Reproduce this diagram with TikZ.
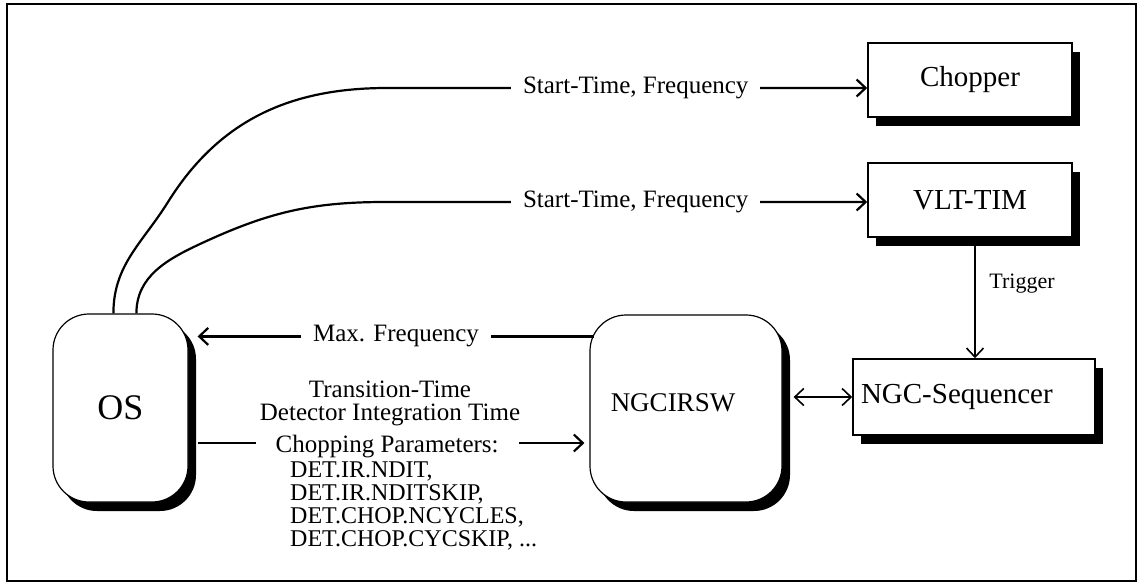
\documentclass[tikz,border=0pt]{standalone}
\usepackage{fontspec}
\setmainfont{Liberation Serif}
\usetikzlibrary{arrows.meta,shadows,calc}
\begin{document}
\begin{tikzpicture}[x=1pt,y=-1pt]
\tikzset{
  box/.style={draw, line width=1.6pt, fill=white, inner sep=0pt,
    drop shadow={shadow xshift=8pt, shadow yshift=-9pt, fill=black, opacity=1}},
  rbox/.style={box, rounded corners=36pt, line width=1.2pt},
  boxfont/.style={font=\fontsize{29}{30}\selectfont},
  lab/.style={font=\fontsize{25}{23}\selectfont, fill=white, inner ysep=1pt},
  plain/.style={font=\fontsize{25}{23}\selectfont, inner sep=0pt, align=center},
  conn/.style={line width=2.2pt},
  thinconn/.style={line width=1.6pt},
  tip/.style={-{Straight Barb[length=9pt,width=17pt]}},
  bothtips/.style={{Straight Barb[length=9pt,width=17pt]}-{Straight Barb[length=9pt,width=17pt]}},
}
\useasboundingbox (0,0) rectangle (1140,584);
\draw[line width=2pt] (7,4) rectangle (1136,581);

% boxes
\node[box, boxfont, minimum width=204pt, minimum height=74pt] (chop) at (970,80) {Chopper};
\node[box, boxfont, minimum width=204pt, minimum height=74pt] (vlt) at (970,200) {VLT-TIM};
\node[box, boxfont, minimum height=76pt, inner xsep=8pt, text width=226pt, align=left] (seq) at (974,397) {NGC-Sequencer};
\node[rbox, minimum width=192pt, minimum height=187pt] (ngc) at (686,408.5) {};
\node[font=\fontsize{27}{30}\selectfont, inner sep=0pt] (ngct) at (673,403) {NGCIRSW};
\node[rbox, minimum width=135pt, minimum height=188pt, font=\fontsize{36}{38}\selectfont] (os) at (120.5,408) {OS};

% curve way points
\coordinate (k1) at (168,202);
\coordinate (k2) at (387,88);
\coordinate (m1) at (200,244);
\coordinate (m2) at (385,202);

% OS -> Chopper
\draw[conn, tip] ($(os.north west)+(61,0)$) to[out=90,in=238] (k1) to[out=58,in=180] (k2)
  -- node[lab, pos=0.518, inner xsep=12pt] {Start-Time, Frequency} ($(chop.west)+(0,8)$);
% OS -> VLT-TIM
\draw[conn, tip] ($(os.north west)+(84,0)$) to[out=90,in=205] (m1) to[out=25,in=180] (m2)
  -- node[lab, pos=0.52, inner xsep=12pt] {Start-Time, Frequency} ($(vlt.west)+(0,2)$);

% NGCIRSW -> OS
\draw[conn, tip] ($(ngc.north west)+(5,22)$) -- node[lab, pos=0.5, inner xsep=12pt] {Max. Frequency} ($(os.north east)+(9,23)$);

% OS -> NGCIRSW
\draw[conn, tip] ($(os.east)+(9,35)$) -- node[lab, pos=0.49, inner xsep=20pt, yshift=-4pt, inner ysep=0pt] {Chopping Parameters:} ($(ngc.west)+(-5,34.5)$);
\node[plain] (tt) at (390,403.5) {Transition-Time\\Detector Integration Time};
\node[font=\fontsize{24}{23}\selectfont, inner sep=0pt, align=left, anchor=west] (det) at (290,505.5)
  {DET.IR.NDIT,\\DET.IR.NDITSKIP,\\DET.CHOP.NCYCLES,\\DET.CHOP.CYCSKIP, ...};

% NGCIRSW <-> NGC-Sequencer
\draw[thinconn, bothtips] ($(ngc.east |- seq.west)+(11,0)$) -- (seq.west);

% VLT-TIM -> NGC-Sequencer
\draw[thinconn, tip] ($(vlt.south)+(5,0)$) -- ($(seq.north)+(1,0)$);
\node[font=\fontsize{22}{24}\selectfont, inner sep=0pt] (trig) at (1022,284) {Trigger};
\end{tikzpicture}
\end{document}
